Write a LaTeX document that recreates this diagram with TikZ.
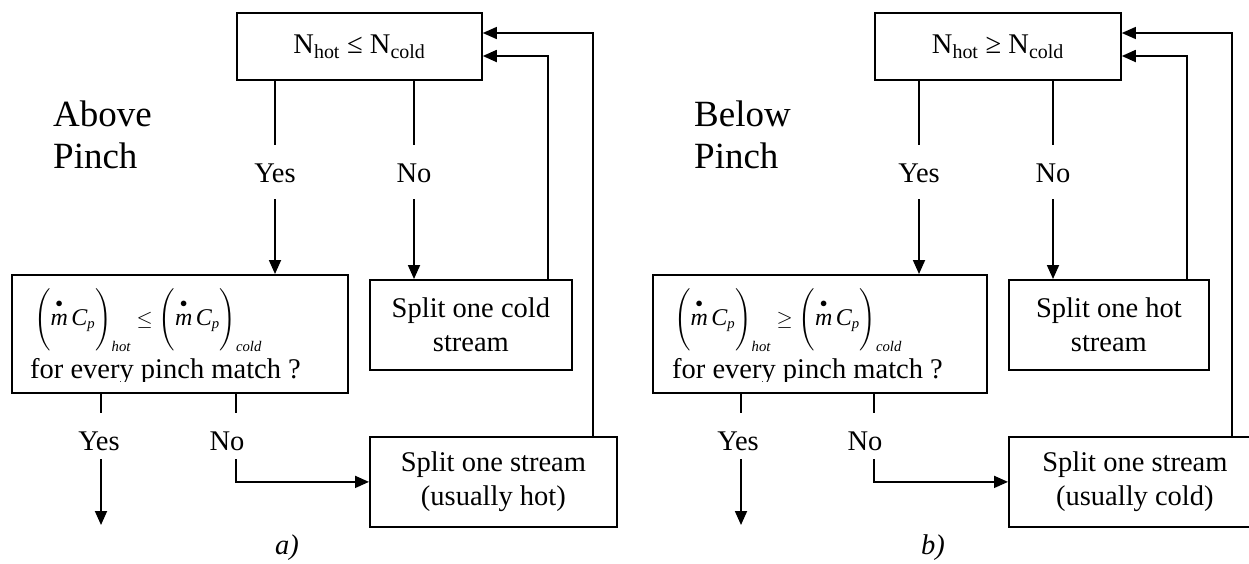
\documentclass[tikz,border=0pt]{standalone}
\usepackage{fontspec}
\usepackage{amsmath}
\setmainfont{Liberation Serif}
\usetikzlibrary{arrows.meta}
\newcommand\mainfs{\fontsize{28.5}{34}\selectfont}
\newcommand\formfs{\fontsize{21}{25}\selectfont}
\newcommand\pinchfs{\fontsize{37}{42}\selectfont}
\newcommand\bigit[1]{\text{\fontsize{24}{26}\selectfont\itshape #1}}
\newcommand\flowm{\overset{\raisebox{2.5pt}{$\scriptstyle\bullet$}}{\bigit{m}}}
\newcommand\flowterm[1]{\Bigg(\flowm\,\bigit{C}_{\text{\itshape p}}\Bigg)_{\text{\itshape #1}}}
\begin{document}
\begin{tikzpicture}[x=1pt,y=-1pt,
  every node/.style={inner sep=0pt},
  box/.style={draw, line width=1.8pt, anchor=north west, align=center, font=\mainfs},
  lab/.style={font=\mainfs, text height=37pt},
  ln/.style={line width=1.8pt},
  arr/.style={line width=1.8pt, -{Triangle[length=14pt,width=12pt]}},
  thinarr/.style={line width=1.4pt, -{Triangle[length=14pt,width=12pt]}}]
\useasboundingbox (0,0) rectangle (1249,563);

% ---------- a) Above pinch ----------
\node[box, minimum width=245pt, minimum height=67pt] (top) at (236,12) {N\textsubscript{hot} ≤ N\textsubscript{cold}};
\node[box, minimum width=336pt, minimum height=118pt] (mid) at (11,274) {};
\node[box, minimum width=202pt, minimum height=90pt] (cold) at (369,279) {Split one cold\\stream};
\node[box, minimum width=247pt, minimum height=90pt] (bot) at (369,436) {Split one stream\\(usually hot)};

\node[anchor=base west, font=\formfs] (f1) at (34,325) {$\flowterm{hot}\le\flowterm{cold}$};
\begin{scope}
  \clip (0,0) rectangle (640,381);
  \node[anchor=base west, font=\mainfs] (q1) at (30,378) {for every pinch match ?};
\end{scope}

\node[anchor=north west, align=left, font=\pinchfs] (ap) at (53,101) {Above\\Pinch};
\node[font=\itshape\mainfs] (ca) at (287,548) {a)};

\node[lab, text depth=17pt] (y1) at (275,172) {Yes};
\node[lab, text depth=17pt] (n1) at (414,172) {No};
\node[lab, text depth=9pt] (y2) at (99,436) {Yes};
\node[lab, text depth=9pt] (n2) at (227,436) {No};

\draw[ln] (top.south -| y1) -- (y1.north);
\draw[arr] (y1.south) -- (mid.north -| y1);
\draw[ln] (top.south -| n1) -- (n1.north);
\draw[arr] (n1.south) -- (cold.north -| n1);

\coordinate (ye) at (101,525);
\draw[ln] (mid.south -| ye) -- (y2.north -| ye);
\draw[arr] (y2.south -| ye) -- (ye);
\coordinate (nx) at (236,480);
\draw[ln] (mid.south -| nx) -- (n2.north -| nx);
\draw[arr] (n2.south -| nx) |- (bot.west);

\coordinate (fa) at (548,56);
\draw[arr] (cold.north -| fa) -- (fa) -- (top.east |- fa);
\coordinate (fb) at (593,33);
\draw[thinarr] (bot.north -| fb) -- (fb) -- (top.east |- fb);

% ---------- b) Below pinch ----------
\node[box, minimum width=246pt, minimum height=67pt] (topb) at (874,12) {N\textsubscript{hot} ≥ N\textsubscript{cold}};
\node[box, minimum width=334pt, minimum height=118pt] (midb) at (652,274) {};
\node[box, minimum width=200pt, minimum height=90pt] (hotb) at (1008,279) {Split one hot\\stream};
\node[box, minimum width=252pt, minimum height=90pt] (botb) at (1008,436) {Split one stream\\(usually cold)};

\node[anchor=base west, font=\formfs] (f2) at (674,325) {$\flowterm{hot}\ge\flowterm{cold}$};
\begin{scope}
  \clip (640,0) rectangle (1249,381);
  \node[anchor=base west, font=\mainfs] (q2) at (672,378) {for every pinch match ?};
\end{scope}

\node[anchor=north west, align=left, font=\pinchfs] (bp) at (694,101) {Below\\Pinch};
\node[font=\itshape\mainfs] (cb) at (933,548) {b)};

\node[lab, text depth=17pt] (y3) at (919,172) {Yes};
\node[lab, text depth=17pt] (n3) at (1053,172) {No};
\node[lab, text depth=9pt] (y4) at (738,436) {Yes};
\node[lab, text depth=9pt] (n4) at (865,436) {No};

\draw[ln] (topb.south -| y3) -- (y3.north);
\draw[arr] (y3.south) -- (midb.north -| y3);
\draw[ln] (topb.south -| n3) -- (n3.north);
\draw[arr] (n3.south) -- (hotb.north -| n3);

\coordinate (yf) at (741,525);
\draw[ln] (midb.south -| yf) -- (y4.north -| yf);
\draw[arr] (y4.south -| yf) -- (yf);
\coordinate (nz) at (874,480);
\draw[ln] (midb.south -| nz) -- (n4.north -| nz);
\draw[arr] (n4.south -| nz) |- (botb.west);

\coordinate (fc) at (1187,56);
\draw[arr] (hotb.north -| fc) -- (fc) -- (topb.east |- fc);
\coordinate (fd) at (1232,33);
\draw[thinarr] (botb.north -| fd) -- (fd) -- (topb.east |- fd);
\end{tikzpicture}
\end{document}
